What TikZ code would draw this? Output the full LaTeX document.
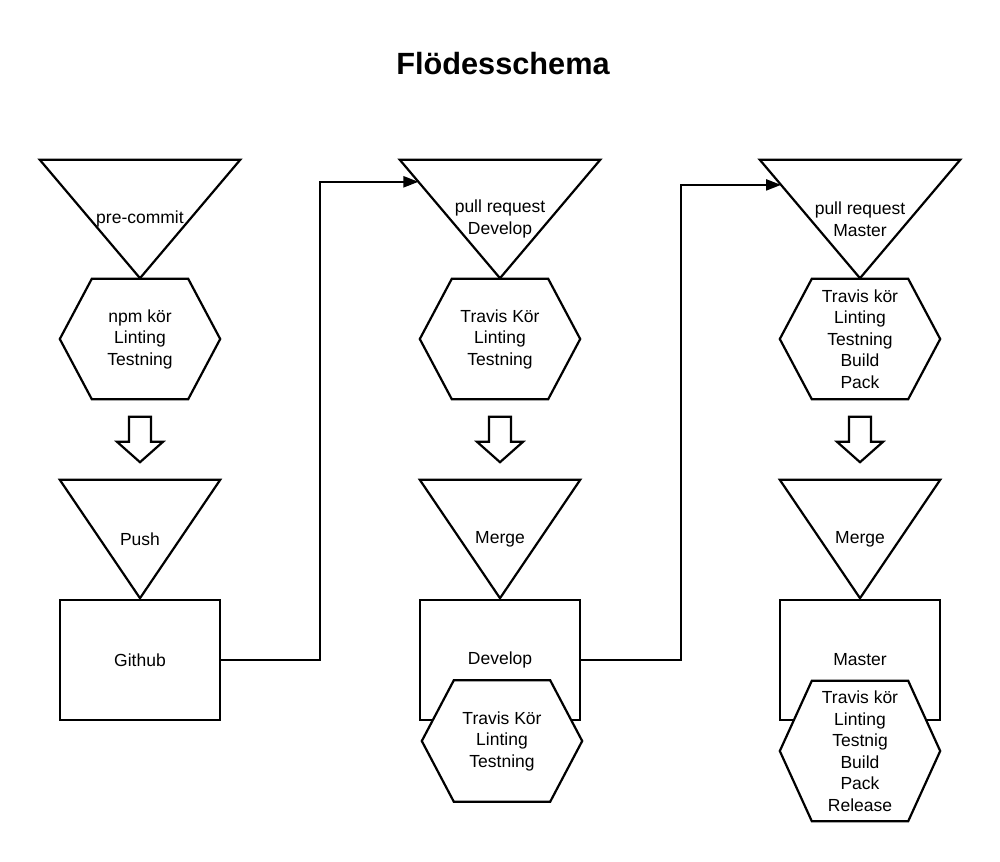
\documentclass[tikz,border=0pt]{standalone}
\usepackage{fontspec}
\setmainfont{Liberation Sans}
\usetikzlibrary{arrows.meta,calc}

\pgfdeclarelayer{bak}
\pgfdeclarelayer{form}
\pgfsetlayers{bak,form,main}

\tikzset{kant/.style={draw=black, line width=2.2pt, line join=miter},
         fr/.style={rectangle, inner sep=0pt},
         bx/.style={kant, rectangle, minimum width=160pt, minimum height=120pt, inner sep=0pt},
         lnk/.style={kant, -{Triangle[length=15pt,width=11pt]}}}

% konturer runt namngivna noder
\newcommand{\trekant}[1]{\begin{pgfonlayer}{form}\draw[kant] (#1.north west) -- (#1.north east) -- (#1.south) -- cycle;\end{pgfonlayer}}
\newcommand{\sexkant}[1]{\begin{pgfonlayer}{form}\draw[kant, fill=white] (#1.west) -- ($(#1.north west)+(32,0)$) -- ($(#1.north east)+(-32,0)$) -- (#1.east) -- ($(#1.south east)+(-32,0)$) -- ($(#1.south west)+(32,0)$) -- cycle;\end{pgfonlayer}}
\newcommand{\pil}[1]{\draw[kant] ($(#1.north)+(-11,0)$) -- ($(#1.north)+(11,0)$) -- ($(#1.north)+(11,25)$) -- ($(#1.north)+(23,25)$) -- (#1.south) -- ($(#1.north)+(-23,25)$) -- ($(#1.north)+(-11,25)$) -- cycle;}

\begin{document}
\begin{tikzpicture}[x=1pt, y=-1pt, every node/.style={align=center, font=\fontsize{17.5}{21.5}\selectfont}]
\useasboundingbox (0,0) rectangle (1000,861);
\node[font=\fontsize{30.7}{36}\selectfont\bfseries, anchor=base] (titel) at (503,75) {Flödesschema};
% kolumn 1
\node[fr, minimum width=200pt, minimum height=118pt] (pre) at (140,219) {pre-commit};
\node[fr, minimum width=160pt, minimum height=120pt] (npm) at (140,339) {npm kör\\Linting\\Testning};
\node[fr, minimum width=46pt, minimum height=45pt] (p1) at (140,439.5) {};
\node[fr, minimum width=160pt, minimum height=118pt] (push) at (140,539) {Push};
% kolumn 2
\node[fr, minimum width=200pt, minimum height=118pt] (prd) at (500,219) {pull request\\Develop};
\node[fr, minimum width=160pt, minimum height=120pt] (trd) at (500,339) {Travis Kör\\Linting\\Testning};
\node[fr, minimum width=46pt, minimum height=45pt] (p2) at (500,439.5) {};
\node[fr, minimum width=160pt, minimum height=118pt] (mgd) at (500,539) {Merge};
\node[fr, minimum width=160pt, minimum height=121pt] (trd2) at (502,741) {Travis Kör\\Linting\\Testning};
% kolumn 3
\node[fr, minimum width=200pt, minimum height=118pt] (prm) at (860,219) {pull request\\Master};
\node[fr, minimum width=160pt, minimum height=120pt] (trm) at (860,339) {Travis kör\\Linting\\Testning\\Build\\Pack};
\node[fr, minimum width=46pt, minimum height=45pt] (p3) at (860,439.5) {};
\node[fr, minimum width=160pt, minimum height=118pt] (mgm) at (860,539) {Merge};
\node[fr, minimum width=160pt, minimum height=140pt] (trm2) at (860,751) {Travis kör\\Linting\\Testnig\\Build\\Pack\\Release};
% rutor
\begin{pgfonlayer}{bak}
\node[bx] (gh) at (140,660) {Github};
\node[bx] (dev) at (500,660) {Develop};
\node[bx] (mst) at (860,660) {Master};
\end{pgfonlayer}
\trekant{pre} \trekant{push} \trekant{prd} \trekant{mgd} \trekant{prm} \trekant{mgm}
\sexkant{npm} \sexkant{trd} \sexkant{trd2} \sexkant{trm} \sexkant{trm2}
\pil{p1} \pil{p2} \pil{p3}
% kopplingar
\coordinate (e2) at ($(prd.north west)!0.186!(prd.south)$);
\coordinate (e3) at ($(prm.north west)!0.212!(prm.south)$);
\draw[lnk] (gh.east) -| ($(gh.east)!.5!(e2)$) |- (e2);
\draw[lnk] (dev.east) -| ($(dev.east)!.5!(e3)$) |- (e3);
\end{tikzpicture}
\end{document}
